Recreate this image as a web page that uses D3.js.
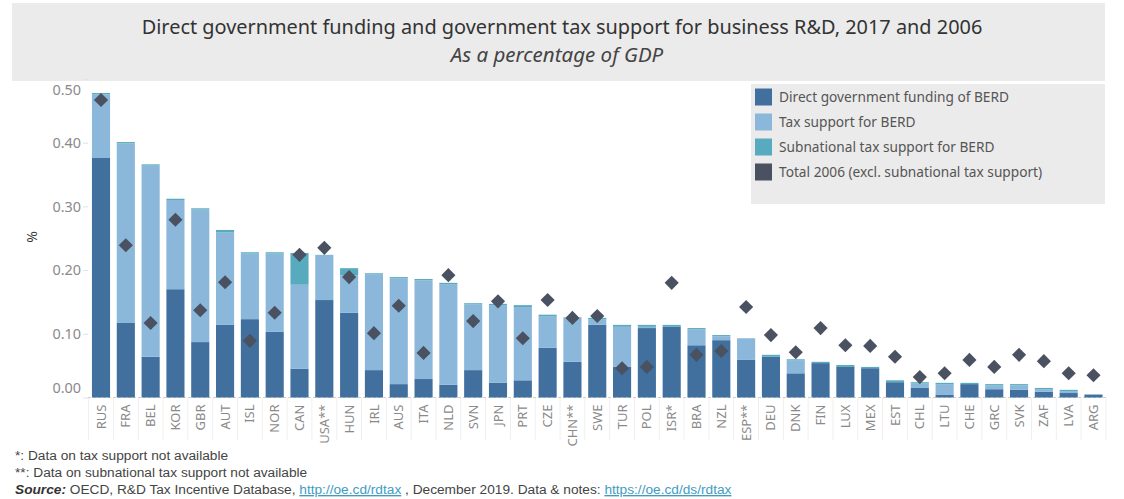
<!DOCTYPE html>
<html><head><meta charset="utf-8">
<script src="https://cdn.jsdelivr.net/npm/d3@7"></script>
<style>body{margin:0;background:#fff} svg{display:block}</style>
</head><body><svg id="c" width="1124" height="499"></svg>
<script>
const countries = ["RUS","FRA","BEL","KOR","GBR","AUT","ISL","NOR","CAN","USA**","HUN","IRL","AUS","ITA","NLD","SVN","JPN","PRT","CZE","CHN**","SWE","TUR","POL","ISR*","BRA","NZL","ESP**","DEU","DNK","FIN","LUX","MEX","EST","CHL","LTU","CHE","GRC","SVK","ZAF","LVA","ARG"];
const direct      = [0.376,0.117,0.064,0.170,0.087,0.114,0.123,0.103,0.045,0.153,0.133,0.043,0.021,0.029,0.020,0.043,0.023,0.027,0.078,0.056,0.114,0.048,0.109,0.111,0.082,0.090,0.059,0.064,0.038,0.054,0.048,0.046,0.024,0.015,0.004,0.021,0.013,0.012,0.009,0.007,0.004];
const tax         = [0.100,0.282,0.300,0.140,0.208,0.145,0.103,0.123,0.132,0.071,0.059,0.150,0.166,0.155,0.158,0.103,0.122,0.115,0.049,0.070,0.009,0.063,0.002,0.000,0.025,0.006,0.034,0.000,0.020,0.000,0.000,0.000,0.000,0.007,0.017,0.000,0.006,0.007,0.004,0.003,0.000];
const subnational = [0.002,0.002,0.002,0.002,0.002,0.004,0.002,0.002,0.050,0.000,0.011,0.002,0.002,0.002,0.002,0.002,0.002,0.003,0.003,0.000,0.002,0.003,0.003,0.003,0.002,0.002,0.000,0.003,0.002,0.002,0.003,0.002,0.003,0.002,0.002,0.002,0.002,0.002,0.002,0.002,0.001];
const total2006   = [0.467,0.239,0.117,0.279,0.137,0.181,0.089,0.133,0.224,0.235,0.189,0.101,0.144,0.070,0.192,0.120,0.151,0.093,0.153,0.125,0.128,0.046,0.048,0.180,0.067,0.073,0.142,0.098,0.071,0.109,0.082,0.081,0.064,0.032,0.038,0.059,0.048,0.067,0.057,0.038,0.035];
const yTicks = [0, 0.1, 0.2, 0.3, 0.4, 0.5];
const seriesKeys = ["direct","tax","subnational"];
const legendLabels = ["Direct government funding of BERD","Tax support for BERD","Subnational tax support for BERD","Total 2006 (excl. subnational tax support)"];
const colors = {direct:"#41709f", tax:"#8ab7da", subnational:"#58aabe", total:"#4a5160"};

const rows = countries.map((c,i)=>({country:c, direct:direct[i], tax:tax[i], subnational:subnational[i], total2006:total2006[i]}));

const svg = d3.select("#c");
svg.append("rect").attr("width",1124).attr("height",499).attr("fill","#fff");

// Title
svg.append("rect").attr("x",12).attr("y",3).attr("width",1093).attr("height",78).attr("fill","#ebebeb");
svg.append("text").attr("x",562).attr("y",34).attr("text-anchor","middle")
  .style("font-family","'Noto Sans'").style("font-size","19.9px").attr("fill","#333")
  .text("Direct government funding and government tax support for business R&D, 2017 and 2006");
svg.append("text").attr("x",557).attr("y",62).attr("text-anchor","middle")
  .style("font-family","'Noto Sans'").style("font-size","20.5px").style("font-style","italic").attr("fill","#444")
  .text("As a percentage of GDP");

const y = d3.scaleLinear().domain([0,0.5]).range([397.5,79]);
const x = d3.scaleBand().domain(countries).range([88.6,1105.9]).paddingInner(0.27).paddingOuter(0.135);

// y axis
const yAxis = svg.append("g").attr("transform","translate(88,0)")
  .call(d3.axisLeft(y).tickValues(yTicks).tickFormat(d3.format(".2f")).tickSize(5).tickPadding(2));
yAxis.select(".domain").remove();
yAxis.selectAll(".tick line").attr("stroke","#e2e2e2");
yAxis.selectAll(".tick text").style("font-family","'Noto Sans'").style("font-size","14.4px").attr("fill","#8a8a8a")
  .attr("dy", d => d===0.5 ? "1.1em" : d===0 ? "-0.35em" : "0.32em");
svg.append("text").attr("transform","translate(37,237) rotate(-90)").attr("text-anchor","middle")
  .style("font-family","'Noto Sans'").style("font-size","14px").attr("fill","#333").text("%");

// separators under axis
const step = x.step(), off = (step - x.bandwidth())/2;
svg.append("g").selectAll("line").data(countries.concat(["__end"])).join("line")
  .attr("x1",(d,i)=> i<countries.length ? x(d)-off : x(countries[countries.length-1])+x.bandwidth()+off)
  .attr("x2",(d,i)=> i<countries.length ? x(d)-off : x(countries[countries.length-1])+x.bandwidth()+off)
  .attr("y1",398).attr("y2",440).attr("stroke","#efefef");

// baseline
svg.append("line").attr("x1",88).attr("x2",1106).attr("y1",397.5).attr("y2",397.5)
  .attr("stroke","#cfcfcf").attr("stroke-dasharray","3,2");

// bars
const stacked = d3.stack().keys(seriesKeys)(rows);
svg.append("g").selectAll("g").data(stacked).join("g")
  .attr("fill", d => colors[d.key])
  .selectAll("rect").data(d=>d).join("rect")
  .attr("x", d => x(d.data.country))
  .attr("width", x.bandwidth())
  .attr("y", d => y(d[1]))
  .attr("height", d => Math.max(0, y(d[0]) - y(d[1])));

// diamonds
svg.append("g").selectAll("path").data(rows).join("path")
  .attr("d", d3.symbol(d3.symbolSquare, 100)())
  .attr("transform", d => `translate(${x(d.country)+x.bandwidth()/2},${y(d.total2006)}) rotate(45)`)
  .attr("fill", colors.total);

// x axis
const xAxis = svg.append("g").attr("transform","translate(0,397.5)").call(d3.axisBottom(x).tickSize(0));
xAxis.select(".domain").remove();
xAxis.selectAll(".tick text")
  .attr("transform","rotate(-90)").attr("x",-7).attr("y",0).attr("dy","0.35em")
  .style("text-anchor","end").style("font-family","'Noto Sans'").style("font-size","13px").attr("fill","#8a8a8a");

// legend
const lg = svg.append("g");
lg.append("rect").attr("x",751).attr("y",84).attr("width",354).attr("height",120).attr("fill","#ebebeb");
const legColors = [colors.direct, colors.tax, colors.subnational, colors.total];
legendLabels.forEach((t,i)=>{
  const cy = 97 + i*25;
  lg.append("rect").attr("x",755).attr("y",cy-8.5).attr("width",17).attr("height",17).attr("fill",legColors[i]);
  lg.append("text").attr("x",779).attr("y",cy).attr("dy","0.35em")
    .style("font-family","'Noto Sans'").style("font-size","13.7px").attr("fill","#555").text(t);
});

// footer
const ff = "'Liberation Sans', Arial, sans-serif";
svg.append("text").attr("x",15).attr("y",460).style("font-family",ff).style("font-size","13.7px").attr("fill","#444")
  .text("*: Data on tax support not available");
svg.append("text").attr("x",15).attr("y",477).style("font-family",ff).style("font-size","13.7px").attr("fill","#444")
  .text("**: Data on subnational tax support not available");
const src = svg.append("text").attr("x",15).attr("y",494).style("font-family",ff).style("font-size","13.7px").attr("fill","#444");
src.append("tspan").style("font-weight","bold").style("font-style","italic").attr("fill","#333").text("Source:");
src.append("tspan").text(" OECD, R&D Tax Incentive Database, ");
src.append("tspan").attr("fill","#3f9cc2").style("text-decoration","underline").text("http://oe.cd/rdtax");
src.append("tspan").text(" , December 2019. Data & notes: ");
src.append("tspan").attr("fill","#3f9cc2").style("text-decoration","underline").text("https://oe.cd/ds/rdtax");
</script></body></html>
